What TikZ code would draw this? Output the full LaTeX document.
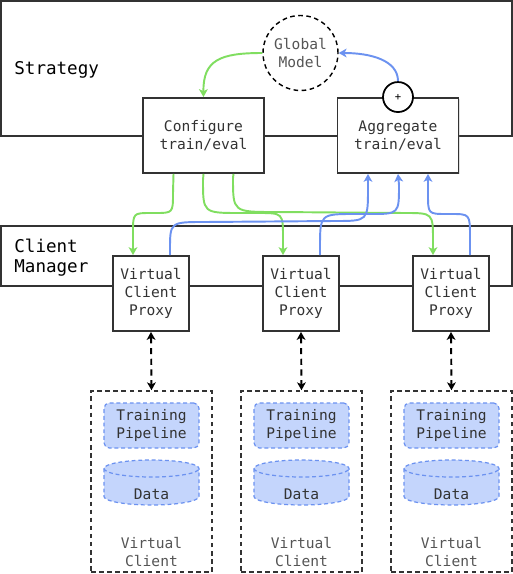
\documentclass[tikz,border=0pt]{standalone}
\usepackage{fontspec}
\setmainfont{DejaVu Sans Mono}
\usetikzlibrary{arrows.meta, calc, shadows}
\definecolor{mydark}{RGB}{51,51,51}
\definecolor{mygray}{RGB}{85,85,85}
\definecolor{mygreen}{RGB}{128,222,96}
\definecolor{myblue}{RGB}{108,146,240}
\definecolor{fillblue}{RGB}{196,213,252}
\tikzset{
  x=0.02cm, y=-0.02cm,
  panel/.style={rectangle, draw=mydark, fill=white, line width=1.1pt,
    inner sep=0pt, minimum width=10.22cm,
    drop shadow={shadow xshift=0.8pt, shadow yshift=-0.8pt, opacity=0.25}},
  paneltext/.style={anchor=west, align=left, inner sep=0pt, text=black,
    font=\fontsize{10}{11.3}\selectfont},
  block/.style={rectangle, draw=mydark, fill=white, line width=1.1pt,
    minimum width=2.42cm, minimum height=1.5cm, inner sep=0pt, align=center,
    font=\fontsize{8.3}{10.2}\selectfont, text=mydark,
    drop shadow={shadow xshift=0.8pt, shadow yshift=-0.8pt, opacity=0.25}},
  proxy/.style={block, minimum width=1.52cm},
  modelnode/.style={circle, draw=black, dash pattern=on 2.6pt off 2pt,
    line width=0.8pt, minimum size=1.5cm, inner sep=0pt, align=center,
    font=\fontsize{8.3}{10.2}\selectfont, text=mygray},
  sumnode/.style={circle, draw=black, fill=white, line width=1pt,
    minimum size=0.6cm, inner sep=0pt, font=\fontsize{6}{6}\selectfont},
  clientbox/.style={rectangle, draw=mydark, dash pattern=on 2.6pt off 2pt,
    line width=0.9pt, minimum width=2.42cm, minimum height=3.62cm, inner sep=0pt},
  pipebox/.style={rectangle, rounded corners=3pt, draw=myblue, fill=fillblue,
    dash pattern=on 2.2pt off 1.6pt, line width=0.7pt, minimum width=1.9cm,
    minimum height=0.9cm, inner sep=0pt, align=center,
    font=\fontsize{8.3}{10.2}\selectfont, text=mydark},
  dbshape/.style={draw=myblue, fill=fillblue, dash pattern=on 2.2pt off 1.6pt,
    line width=0.7pt},
  smalltext/.style={inner sep=0pt, align=center,
    font=\fontsize{8.3}{10.2}\selectfont, text=mydark},
  greytext/.style={smalltext, text=mygray},
  greenarrow/.style={-{Stealth[length=4.5pt, width=5pt, inset=1.2pt]},
    line width=1.1pt, color=mygreen},
  bluearrow/.style={-{Stealth[length=4.5pt, width=5pt, inset=1.2pt]},
    line width=1.1pt, color=myblue},
  linkarrow/.style={{Stealth[length=4.5pt, width=5pt, inset=1.2pt]}-{Stealth[length=4.5pt, width=5pt, inset=1.2pt]},
    line width=1.1pt, color=black, dash pattern=on 3.5pt off 2.6pt}
}
\begin{document}
\begin{tikzpicture}
  \useasboundingbox (0,0) rectangle (513,574);
  % Strategy and client manager panels
  \node[panel, minimum height=2.7cm] (strategy) at (256.5,68.5) {};
  \node[paneltext] (strategytext) at (14,70) {Strategy};
  \node[panel, minimum height=1.2cm] (manager) at (256.5,256) {};
  \node[paneltext] (managertext) at (14,258) {Client\\Manager};
  % Strategy blocks
  \node[modelnode] (gm) at (300.5,53) {Global\\Model};
  \node[block] (cfg) at (203.5,135.5) {Configure\\train/eval};
  \node[block] (agg) at (398,135.5) {Aggregate\\train/eval};
  \node[sumnode] (plus) at (agg.north) {+};
  \draw[greenarrow] (gm.west) .. controls (220,53) and (203,60) .. (cfg.north);
  \draw[bluearrow] (plus.north) .. controls (398,60) and (370,53) .. (gm.east);
  % Proxies
  \node[proxy] (px1) at (151,293.5) {Virtual\\Client\\Proxy};
  \node[proxy] (px2) at (301,293.5) {Virtual\\Client\\Proxy};
  \node[proxy] (px3) at (451,293.5) {Virtual\\Client\\Proxy};
  % Configure -> proxies
  \draw[greenarrow] ($(cfg.south)+(-30,0)$) -- (173,193) .. controls (173,213) .. (155,213)
    -- (151,213) .. controls (133,213) .. (133,233) -- ($(px1.north)+(-18,0)$);
  \draw[greenarrow] (cfg.south) -- (203,180) .. controls (203,213) .. (240,213)
    -- (258,213) .. controls (283,213) .. (283,238) -- ($(px2.north)+(-18,0)$);
  \draw[greenarrow] ($(cfg.south)+(30,0)$) -- (233,178) .. controls (233,212) .. (275,212)
    -- (405,213) .. controls (433,213) .. (433,241) -- ($(px3.north)+(-18,0)$);
  % Proxies -> aggregate
  \draw[bluearrow] ($(px1.north)+(19,0)$) -- (170,250) .. controls (170,222) .. (205,222)
    -- (335,221) .. controls (368,221) .. (368,188) -- ($(agg.south)+(-30,0)$);
  \draw[bluearrow] ($(px2.north)+(19,0)$) -- (320,248) .. controls (320,214) .. (355,214)
    -- (370,214) .. controls (399,214) .. (399,185) -- (agg.south);
  \draw[bluearrow] ($(px3.north)+(19,0)$) -- (470,238) .. controls (470,214) .. (451,214)
    -- (447,214) .. controls (428,214) .. (428,194) -- ($(agg.south)+(30,0)$);
  % Virtual clients
  \node[clientbox] (vc1) at (151.5,481.5) {};
  \node[clientbox] (vc2) at (301.5,481.5) {};
  \node[clientbox] (vc3) at (451.5,481.5) {};
  \draw[linkarrow] (px1.south) -- (vc1.north);
  \draw[linkarrow] (px2.south) -- (vc2.north);
  \draw[linkarrow] (px3.south) -- (vc3.north);
  \node[pipebox] (tp1) at (151.5,425.5) {Training\\Pipeline};
  \node[pipebox] (tp2) at (301.5,425.5) {Training\\Pipeline};
  \node[pipebox] (tp3) at (451.5,425.5) {Training\\Pipeline};
  % Data stores
  \draw[dbshape] (104,468.5) -- (104,496.5) arc[start angle=180, end angle=0, x radius=47.5, y radius=8.5]
    -- (199,468.5) arc[start angle=0, end angle=-180, x radius=47.5, y radius=8.5] -- cycle;
  \draw[dbshape, fill=none] (104,468.5) arc[start angle=180, end angle=0, x radius=47.5, y radius=8.5];
  \draw[dbshape] (254,468.5) -- (254,496.5) arc[start angle=180, end angle=0, x radius=47.5, y radius=8.5]
    -- (349,468.5) arc[start angle=0, end angle=-180, x radius=47.5, y radius=8.5] -- cycle;
  \draw[dbshape, fill=none] (254,468.5) arc[start angle=180, end angle=0, x radius=47.5, y radius=8.5];
  \draw[dbshape] (404,468.5) -- (404,496.5) arc[start angle=180, end angle=0, x radius=47.5, y radius=8.5]
    -- (499,468.5) arc[start angle=0, end angle=-180, x radius=47.5, y radius=8.5] -- cycle;
  \draw[dbshape, fill=none] (404,468.5) arc[start angle=180, end angle=0, x radius=47.5, y radius=8.5];
  \node[smalltext] (data1) at (151.5,494) {Data};
  \node[smalltext] (data2) at (301.5,494) {Data};
  \node[smalltext] (data3) at (451.5,494) {Data};
  \node[greytext] (vctext1) at (151.5,552) {Virtual\\Client};
  \node[greytext] (vctext2) at (301.5,552) {Virtual\\Client};
  \node[greytext] (vctext3) at (451.5,552) {Virtual\\Client};
\end{tikzpicture}
\end{document}
